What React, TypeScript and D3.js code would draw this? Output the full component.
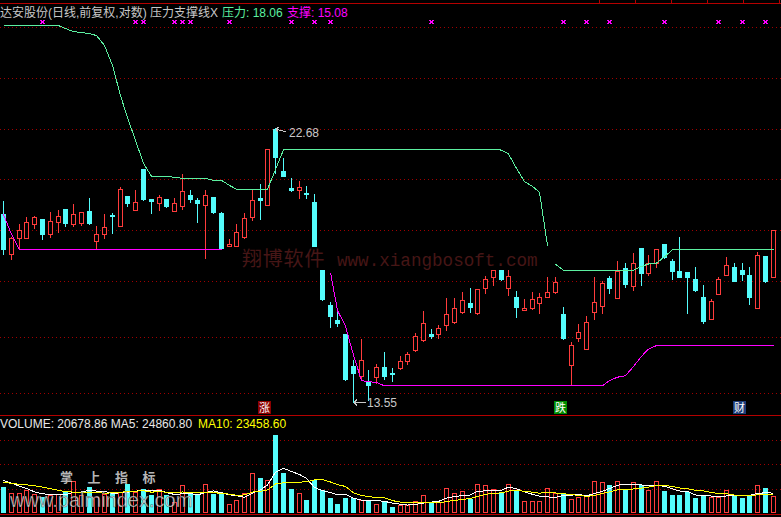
import { useEffect, useRef } from 'react'
import * as d3 from 'd3'

// daily candles, 前复权 prices
const opens = [
  19.3, 17.91, 18.46, 18.46, 18.95, 19.12, 18.57, 19.0, 19.48, 18.95,
  18.98, 19.4, 18.33, 18.57, 19.24, 18.87, 19.96, 19.45, 21.0, 19.84,
  19.71, 19.85, 19.41, 19.6, 20.0, 19.81, 19.64, 19.92, 19.33, 18.18,
  18.18, 18.49, 19.2, 19.88, 19.64, 22.62, 20.92, 20.27, 20.18, 20.09,
  19.74, 17.37, 16.26, 15.81, 15.4, 14.5, 14.24, 14.1, 14.21, 14.46,
  14.31, 14.44, 14.63, 14.93, 15.22, 15.4, 15.39, 15.67, 15.74, 16.04,
  16.32, 16.01, 16.78, 17.13, 17.37, 16.8, 16.5, 16.12, 16.18, 16.31,
  16.51, 16.67, 15.99, 14.53, 15.27, 14.98, 16.06, 16.24, 17.11, 16.48,
  17.43, 16.86, 18.1, 17.28, 17.61, 18.24, 17.67, 17.34, 17.29, 17.07,
  16.5, 15.85, 16.61, 17.22, 17.47, 17.37, 17.2, 16.18, 17.83, 17.15,
]
const highs = [
  19.77, 18.47, 18.94, 19.19, 19.22, 19.13, 19.37, 19.45, 19.49, 19.66,
  19.37, 19.88, 18.86, 19.3, 19.32, 20.29, 19.97, 20.19, 21.01, 19.86,
  19.99, 19.86, 19.88, 20.8, 20.19, 19.88, 20.19, 19.93, 19.37, 18.4,
  18.93, 19.32, 20.19, 20.42, 21.8, 22.68, 21.45, 20.64, 20.53, 20.33,
  20.04, 17.38, 16.35, 16.16, 15.41, 14.67, 15.25, 14.39, 14.55, 14.88,
  14.45, 14.78, 14.88, 15.43, 16.08, 15.54, 15.66, 16.47, 16.47, 16.66,
  16.79, 16.76, 17.17, 17.38, 17.38, 17.37, 16.7, 16.44, 16.67, 16.62,
  17.15, 17.15, 16.2, 15.17, 15.68, 15.93, 17.13, 17.0, 17.18, 17.67,
  17.59, 17.92, 18.11, 17.87, 18.06, 18.25, 17.73, 18.48, 17.31, 17.47,
  16.88, 16.46, 17.13, 17.8, 17.59, 17.6, 17.47, 17.95, 17.84, 18.72,
]
const lows = [
  17.9, 17.73, 18.05, 18.46, 18.8, 18.42, 18.49, 18.66, 18.87, 18.87,
  18.9, 18.94, 18.07, 18.46, 18.63, 18.86, 19.59, 19.44, 19.81, 19.34,
  19.45, 19.54, 19.4, 19.48, 19.75, 19.02, 17.76, 19.34, 18.09, 18.17,
  18.17, 18.44, 19.08, 19.12, 19.63, 20.85, 20.73, 20.16, 19.9, 19.87,
  18.17, 16.41, 15.59, 15.62, 14.13, 13.55, 14.12, 13.6, 14.05, 14.16,
  14.1, 14.43, 14.54, 14.92, 15.21, 15.27, 15.27, 15.52, 15.72, 16.03,
  16.06, 16.0, 16.62, 16.89, 17.04, 16.57, 15.91, 16.11, 16.14, 16.03,
  16.5, 16.64, 15.26, 14.02, 15.21, 14.97, 15.84, 16.03, 16.64, 16.47,
  16.83, 16.71, 16.89, 17.22, 17.48, 17.76, 17.08, 17.14, 16.03, 16.7,
  15.73, 15.84, 16.6, 17.21, 17.01, 17.04, 16.3, 16.17, 16.99, 17.14,
]
const closes = [
  18.08, 18.45, 18.71, 19.0, 19.18, 18.59, 19.04, 19.21, 18.98, 19.29,
  19.36, 18.97, 18.58, 18.83, 19.21, 20.23, 19.71, 19.74, 19.85, 19.78,
  19.92, 19.6, 19.7, 20.15, 19.85, 19.71, 20.0, 19.38, 18.11, 18.23,
  18.64, 19.14, 19.81, 19.81, 21.79, 21.49, 20.74, 20.19, 20.29, 20.06,
  18.18, 16.44, 15.94, 15.71, 14.14, 14.3, 14.67, 14.0, 14.46, 14.24,
  14.28, 14.64, 14.82, 15.34, 15.71, 15.35, 15.57, 15.98, 16.16, 16.41,
  16.21, 16.75, 17.06, 17.37, 17.07, 17.17, 16.21, 16.16, 16.46, 16.5,
  16.67, 16.98, 15.27, 15.08, 15.46, 15.75, 16.34, 16.95, 16.8, 17.35,
  16.92, 17.59, 17.28, 17.59, 18.05, 17.81, 17.35, 17.15, 17.15, 16.71,
  15.78, 16.38, 17.07, 17.54, 17.02, 17.25, 16.51, 17.87, 17.01, 18.71,
]
const volumes = [
  31616, 24685, 24300, 27603, 23469, 19456, 21523, 23469, 25536, 38547,
  21523, 31616, 19456, 23469, 25536, 25536, 35629, 25536, 29549, 21523,
  29549, 21523, 13376, 33683, 23469, 21523, 34899, 23469, 22739, 11309,
  16173, 24685, 49005, 42560, 40493, 94483, 48640, 29184, 24320, 16173,
  40493, 28333, 18240, 10579, 18240, 18240, 16173, 14957, 11309, 13376,
  7296, 9363, 10093, 14957, 21523, 13376, 13376, 30765, 24685, 26387,
  17389, 35629, 33683, 29549, 25536, 35629, 26387, 14227, 14957, 14227,
  30765, 24685, 24320, 17389, 19091, 21523, 39277, 38061, 33683, 39277,
  28333, 38061, 34413, 28333, 39277, 26387, 21523, 21523, 25536, 17875,
  21521, 19819, 19090, 28331, 21521, 18048.3, 21732.06, 34010.21, 29834.57, 20678.86,
]
// sessions just before the visible window (only feed the moving averages)
const prevVolumes = [34048, 36480, 35264, 32832, 37696, 40128, 43776, 41344, 43776]

// 压力 / 支撑 lines, null where the line is not drawn
const pressure = [
  27.52, 27.52, 27.52, 27.52, 27.52, 27.52, 27.52, 27.52, 27.37, 27.21,
  27.16, 27.11, 27.01, 26.51, 25.53, 24.13, 23.15, 22.18, 21.24, 20.73,
  20.73, 20.73, 20.69, 20.65, 20.65, 20.65, 20.65, 20.57, 20.57, 20.38,
  20.23, 20.23, 20.23, 20.23, 20.23, 21.0, 21.79, 21.79, 21.79, 21.79,
  21.79, 21.79, 21.79, 21.79, 21.79, 21.79, 21.79, 21.79, 21.79, 21.79,
  21.79, 21.79, 21.79, 21.79, 21.79, 21.79, 21.79, 21.79, 21.79, 21.79,
  21.79, 21.79, 21.79, 21.79, 21.78, 21.62, 21.04, 20.53, 20.34, 20.12,
  18.2, 17.57, 17.37, 17.37, 17.37, 17.37, 17.37, 17.37, 17.37, 17.37,
  17.37, 17.37, 17.5, 17.58, 17.61, 17.82, 18.06, 18.06, 18.06, 18.06,
  18.06, 18.06, 18.06, 18.06, 18.06, 18.06, 18.06, 18.06, 18.06, 18.06,
]
const pressureBreaks = [71]
const support = [
  19.3, 18.59, 18.05, 18.05, 18.05, 18.05, 18.05, 18.05, 18.05, 18.05,
  18.05, 18.05, 18.05, 18.05, 18.05, 18.05, 18.05, 18.05, 18.05, 18.05,
  18.05, 18.05, 18.05, 18.05, 18.05, 18.05, 18.05, 18.05, 18.05, null,
  null, null, null, null, null, null, null, null, null, null,
  null, null, 17.3, 16.11, 15.64, 14.81, 14.12, 14.09, 14.07, 13.98,
  13.98, 13.98, 13.98, 13.98, 13.98, 13.98, 13.98, 13.98, 13.98, 13.98,
  13.98, 13.98, 13.98, 13.98, 13.98, 13.98, 13.98, 13.98, 13.98, 13.98,
  13.98, 13.98, 13.98, 13.98, 13.98, 13.98, 13.98, 13.98, 14.12, 14.21,
  14.25, 14.5, 14.78, 14.98, 15.08, 15.08, 15.08, 15.08, 15.08, 15.08,
  15.08, 15.08, 15.08, 15.08, 15.08, 15.08, 15.08, 15.08, 15.08, 15.08,
]
const signalIdx = [5, 17, 18, 22, 23, 24, 29, 37, 40, 42, 55, 72, 75, 78, 85, 92, 95, 98]
const tagIdx = [34, 72, 95]
const tagText = ['涨', '跌', '财']
const gridPrices = [27.41, 24.92, 22.62, 20.6, 18.71, 17.0, 15.3, 13.77]
const gridVolumes = [29600, 59200, 88800]

const FONT = "'Liberation Sans', 'Noto Sans CJK SC', sans-serif"

const App = () => {
  const svgRef = useRef<SVGSVGElement>(null)

  useEffect(() => {
    const width = 781
    const height = 517
    const svg = d3.select(svgRef.current)
    svg.selectAll('*').remove()
    svg.attr('width', width).attr('height', height).attr('shape-rendering', 'crispEdges')
    svg.append('rect').attr('width', width).attr('height', height).attr('fill', '#000')

    const red = '#ff3c3c'
    const cyan = '#54fcfc'
    const green = '#5cf0a0'
    const magenta = '#ff00ff'
    const border = '#b40000'
    const n = closes.length

    const x = d3.scaleLinear().domain([0, n - 1]).range([3.1, 772.7])
    const cx = (i: number) => Math.round(x(i))
    const yPrice = d3.scaleLog().domain([13.55, 22.68]).range([402, 128])
    const py = (v: number) => Math.round(yPrice(v))
    const yVol = d3.scaleLinear().domain([0, 100000]).range([513, 513 - 100000 / 1216])
    const vy = (v: number) => Math.round(yVol(v))

    // watermarks
    svg.append('text').attr('x', 242).attr('y', 266).attr('fill', '#461616')
      .attr('font-family', "'Noto Sans CJK SC', sans-serif").attr('font-size', 20).attr('letter-spacing', 0.8)
      .text('翔博软件')
    svg.append('text').attr('x', 337).attr('y', 266).attr('fill', '#461616')
      .attr('font-family', "'Liberation Mono', monospace").attr('font-size', 17.6)
      .text('www.xiangbosoft.com')

    // grid
    const grid = svg.append('g').attr('stroke', '#a00000').attr('stroke-dasharray', '1,3')
    gridPrices.forEach((p) => {
      const y = py(p) + 0.5
      grid.append('line').attr('x1', 0).attr('x2', width).attr('y1', y).attr('y2', y)
    })
    gridVolumes.forEach((v) => {
      const y = vy(v) + 0.5
      grid.append('line').attr('x1', 0).attr('x2', width).attr('y1', y).attr('y2', y)
    })

    // panel borders
    ;[3.5, 415.5, 514.5].forEach((y) => {
      svg.append('line').attr('x1', 0).attr('x2', width).attr('y1', y).attr('y2', y)
        .attr('stroke', border)
    })
    d3.range(6).forEach((k) => {
      const tx = 599.5 + 36 * k
      svg.append('line').attr('x1', tx).attr('x2', tx).attr('y1', 0).attr('y2', 3).attr('stroke', border)
    })

    // candles
    const candles = svg.append('g')
    for (let i = 0; i < n; i++) {
      const up = closes[i] >= opens[i]
      const c = cx(i)
      const yh = py(highs[i])
      const yl = py(lows[i])
      if (up) {
        const top = py(closes[i])
        const bot = Math.max(py(opens[i]), top + 1)
        candles.append('line').attr('x1', c + 0.5).attr('x2', c + 0.5).attr('y1', yh).attr('y2', top).attr('stroke', red)
        candles.append('line').attr('x1', c + 0.5).attr('x2', c + 0.5).attr('y1', bot).attr('y2', yl + 1).attr('stroke', red)
        candles.append('rect').attr('x', c - 1.5).attr('y', top + 0.5).attr('width', 4).attr('height', bot - top)
          .attr('fill', '#000').attr('stroke', red)
      } else {
        const top = py(opens[i])
        const bot = Math.max(py(closes[i]), top + 1)
        candles.append('line').attr('x1', c + 0.5).attr('x2', c + 0.5).attr('y1', yh).attr('y2', yl + 1).attr('stroke', cyan)
        candles.append('rect').attr('x', c - 2).attr('y', top).attr('width', 5).attr('height', bot - top + 1)
          .attr('fill', cyan)
      }
    }

    // 压力 / 支撑 lines
    const segments = (vals: (number | null)[], breaks: number[]) => {
      const out: { i: number; v: number }[][] = []
      let cur: { i: number; v: number }[] = []
      vals.forEach((v, i) => {
        if (v == null || breaks.includes(i)) {
          if (cur.length) out.push(cur)
          cur = []
        }
        if (v != null) cur.push({ i, v })
      })
      if (cur.length) out.push(cur)
      return out
    }
    const line = d3.line<{ i: number; v: number }>().x((d) => cx(d.i) + 0.5).y((d) => yPrice(d.v) + 0.5)
    segments(pressure, pressureBreaks).forEach((s) => {
      svg.append('path').attr('d', line(s)).attr('fill', 'none').attr('stroke', green)
    })
    segments(support, []).forEach((s) => {
      svg.append('path').attr('d', line(s)).attr('fill', 'none').attr('stroke', magenta)
    })

    // signal crosses
    signalIdx.forEach((i) => {
      const c = cx(i) + 0.5
      svg.append('path').attr('d', `M${c - 2},20 L${c + 2},24 M${c - 2},24 L${c + 2},20`)
        .attr('stroke', magenta).attr('stroke-width', 1.3)
    })

    // high / low labels
    const hiIdx = d3.maxIndex(highs)
    const loIdx = d3.minIndex(lows)
    const labelColor = '#c8c8c8'
    const hx = cx(hiIdx) + 1
    const hy = py(highs[hiIdx]) + 1
    svg.append('path').attr('d', `M${hx},${hy} L${hx + 10},${hy + 3} M${hx},${hy} l3,-2 M${hx},${hy} l2,3`)
      .attr('stroke', labelColor).attr('fill', 'none')
    svg.append('text').attr('x', hx + 13).attr('y', hy + 8).attr('fill', labelColor)
      .attr('font-family', FONT).attr('font-size', 12).text(highs[hiIdx].toFixed(2))
    const lx = cx(loIdx) + 1
    const ly = py(lows[loIdx]) + 0.5
    svg.append('path').attr('d', `M${lx},${ly} L${lx + 12},${ly} M${lx},${ly} l3,-3 M${lx},${ly} l3,3`)
      .attr('stroke', labelColor).attr('fill', 'none')
    svg.append('text').attr('x', lx + 13).attr('y', ly + 4.5).attr('fill', labelColor)
      .attr('font-family', FONT).attr('font-size', 12).text(lows[loIdx].toFixed(2))

    // event tags
    const tagColors: Record<string, string> = { 涨: '#8c0000', 跌: '#008c00', 财: '#1e3c78' }
    tagIdx.forEach((i, k) => {
      const c = cx(i)
      svg.append('rect').attr('x', c - 9).attr('y', 401).attr('width', 13).attr('height', 13)
        .attr('fill', tagColors[tagText[k]])
      svg.append('text').attr('x', c - 2.5).attr('y', 412).attr('text-anchor', 'middle').attr('fill', '#fff')
        .attr('font-family', FONT).attr('font-size', 11).text(tagText[k])
    })

    // title
    const last = n - 1
    const title = svg.append('g').attr('font-family', FONT).attr('font-size', 12)
    title.append('text').attr('x', 0).attr('y', 17).attr('fill', labelColor).text('达安股份(日线,前复权,对数) 压力支撑线X')
    title.append('text').attr('x', 222).attr('y', 17).attr('fill', green).text(`压力: ${(pressure[last] as number).toFixed(2)}`)
    title.append('text').attr('x', 287).attr('y', 17).attr('fill', magenta).text(`支撑: ${(support[last] as number).toFixed(2)}`)

    // volume bars
    const vols = svg.append('g')
    for (let i = 0; i < n; i++) {
      const up = closes[i] >= opens[i]
      const c = cx(i)
      const top = vy(volumes[i])
      if (up) {
        vols.append('rect').attr('x', c - 1.5).attr('y', top + 0.5).attr('width', 4).attr('height', 512 - top)
          .attr('fill', 'none').attr('stroke', red)
      } else {
        vols.append('rect').attr('x', c - 2).attr('y', top).attr('width', 5).attr('height', 513 - top).attr('fill', cyan)
      }
    }

    // volume moving averages
    const all = prevVolumes.concat(volumes)
    const off = prevVolumes.length
    const ma = (p: number) => volumes.map((_, i) => d3.mean(all.slice(Math.max(0, i + off - p + 1), i + off + 1)) as number)
    const ma5 = ma(5)
    const ma10 = ma(10)
    const vline = d3.line<number>().x((_, i) => cx(i) + 0.5).y((d) => yVol(d) + 0.5)
    svg.append('path').attr('d', vline(ma5)).attr('fill', 'none').attr('stroke', '#ffffff')
    svg.append('path').attr('d', vline(ma10)).attr('fill', 'none').attr('stroke', '#ffff00')

    // second watermark
    svg.append('text').attr('x', 60).attr('y', 482).attr('fill', '#d8d8d8').attr('fill-opacity', 0.85)
      .attr('font-family', "'Noto Sans CJK SC', sans-serif").attr('font-size', 13).attr('font-weight', 'bold')
      .attr('letter-spacing', 14.5).text('掌上指标')
    svg.append('text').attr('x', 10).attr('y', 507).attr('fill', '#e8e8e8').attr('fill-opacity', 0.85)
      .attr('stroke', '#000').attr('stroke-width', 0.6).attr('stroke-opacity', 0.6)
      .attr('font-family', FONT).attr('font-size', 20).text('www.palmindex.com')

    // volume legend
    const vl = svg.append('g').attr('font-family', FONT).attr('font-size', 12)
    vl.append('text').attr('x', 0).attr('y', 428).attr('fill', '#e8e8e8')
      .text(`VOLUME: ${volumes[last].toFixed(2)} MA5: ${ma5[last].toFixed(2)}`)
    vl.append('text').attr('x', 198).attr('y', 428).attr('fill', '#ffff00')
      .text(`MA10: ${ma10[last].toFixed(2)}`)
  }, [])

  return (
    <svg
      ref={svgRef}
      style={{ position: 'fixed', left: 0, top: 0, display: 'block' }}
    ></svg>
  )
}

export default App
